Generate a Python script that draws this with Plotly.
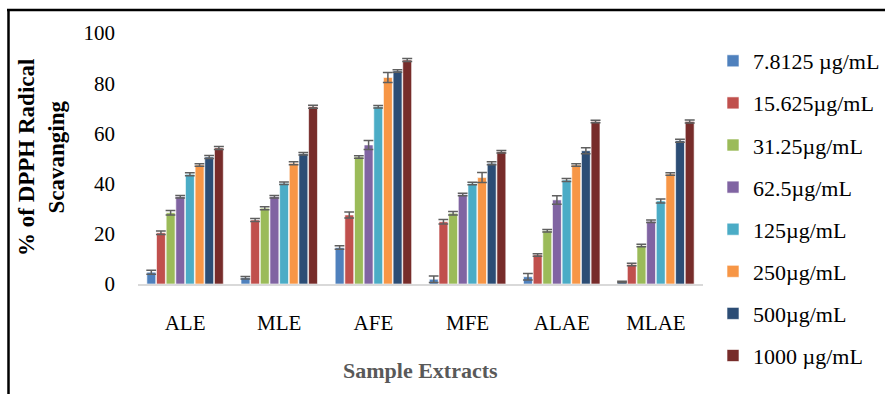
import plotly.graph_objects as go

# Sample extracts on the x axis
categories = ["ALE", "MLE", "AFE", "MFE", "ALAE", "MLAE"]

# Concentration series (legend labels)
series_names = [
    "7.8125 µg/mL", "15.625µg/mL", "31.25µg/mL", "62.5µg/mL",
    "125µg/mL", "250µg/mL", "500µg/mL", "1000 µg/mL",
]

# % DPPH radical scavenging, one list per concentration (ALE, MLE, AFE, MFE, ALAE, MLAE)
conc_7_8125 = [4.7, 2.5, 14.5, 1.9, 2.9, 0.8]
conc_15_625 = [20.4, 25.5, 27.5, 24.8, 11.6, 7.8]
conc_31_25 = [28.4, 30.2, 50.6, 28.2, 21.2, 15.3]
conc_62_5 = [34.8, 34.8, 55.4, 35.7, 33.5, 25.0]
conc_125 = [43.7, 40.1, 70.6, 40.0, 41.4, 33.1]
conc_250 = [47.4, 48.1, 82.3, 42.4, 47.4, 43.8]
conc_500 = [50.6, 51.9, 84.9, 48.1, 53.1, 57.1]
conc_1000 = [54.2, 70.6, 89.2, 52.7, 64.7, 64.7]

# Standard deviations for the error bars
err_7_8125 = [0.8, 0.5, 0.7, 1.3, 1.3, 0.3]
err_15_625 = [0.7, 0.6, 1.2, 0.9, 0.5, 0.5]
err_31_25 = [0.9, 0.6, 0.5, 0.7, 0.5, 0.5]
err_62_5 = [0.5, 0.5, 1.8, 0.5, 1.7, 0.5]
err_125 = [0.6, 0.5, 0.5, 0.5, 0.6, 0.8]
err_250 = [0.5, 0.6, 2.0, 2.0, 0.5, 0.5]
err_500 = [0.6, 0.5, 0.5, 0.6, 1.2, 0.6]
err_1000 = [0.6, 0.6, 0.6, 0.5, 0.5, 0.6]

values = [conc_7_8125, conc_15_625, conc_31_25, conc_62_5,
          conc_125, conc_250, conc_500, conc_1000]
errors = [err_7_8125, err_15_625, err_31_25, err_62_5,
          err_125, err_250, err_500, err_1000]

colors = ["#4F81BD", "#C0504D", "#9BBB59", "#8064A2",
          "#4BACC6", "#F79646", "#2C4D75", "#772C2A"]

y_ticks = [0, 20, 40, 60, 80, 100]

SERIF = "Liberation Serif, Times New Roman, serif"

fig = go.Figure()
for i, (name, vals, errs, col) in enumerate(zip(series_names, values, errors, colors)):
    fig.add_trace(go.Bar(
        x=categories,
        y=vals,
        name=name,
        legendgroup=f"g{i}",
        marker=dict(color=col, line=dict(color="rgba(255,255,255,0.6)", width=1)),
        error_y=dict(type="data", array=errs, visible=True,
                     color="#5f5f5f", thickness=1.5, width=5),
    ))

# plot-area geometry in pixels, used to place the frame and titles
W, H = 885, 394
L, R, T, B = 138, 182, 33, 110
pw, ph = W - L - R, H - T - B


def px_x(px):
    return (px - L) / pw


def px_y(py):
    return (H - B - py) / ph


fig.update_layout(
    width=W, height=H,
    margin=dict(l=L, r=R, t=T, b=B, autoexpand=False),
    paper_bgcolor="white", plot_bgcolor="white",
    barmode="group", bargap=0.18, bargroupgap=0.08,
    font=dict(family=SERIF, color="#000000"),
    showlegend=True,
    legend=dict(
        x=px_x(713), xanchor="left",
        y=px_y(40), yanchor="top",
        maxheight=360,
        font=dict(family=SERIF, size=22, color="#000000"),
        traceorder="grouped", tracegroupgap=10.5,
        bgcolor="rgba(0,0,0,0)",
    ),
    xaxis=dict(
        showline=True, linecolor="#d9d9d9", linewidth=1.5,
        ticks="", showgrid=False, zeroline=False,
        tickfont=dict(family=SERIF, size=21, color="#000000"),
        ticklabelstandoff=19,
    ),
    yaxis=dict(
        range=[0, 100], tickvals=y_ticks,
        showline=False, showgrid=False, zeroline=False, ticks="",
        tickfont=dict(family=SERIF, size=21, color="#000000"),
        ticklabelstandoff=22,
    ),
    annotations=[
        dict(text="<b>% of DPPH Radical<br>Scavanging</b>", textangle=-90,
             x=px_x(41), y=px_y(158), xref="paper", yref="paper",
             xanchor="center", yanchor="middle",
             showarrow=False, font=dict(family=SERIF, size=23, color="#000000")),
        dict(text="<b>Sample Extracts</b>",
             x=0.5, y=px_y(370), xref="paper", yref="paper",
             xanchor="center", yanchor="middle",
             showarrow=False, font=dict(family=SERIF, size=22, color="#595959")),
    ],
    shapes=[
        dict(type="line", xref="paper", yref="paper",
             x0=px_x(7), x1=px_x(W + 5), y0=px_y(10), y1=px_y(10),
             line=dict(color="#000000", width=2.5)),
        dict(type="line", xref="paper", yref="paper",
             x0=px_x(8.5), x1=px_x(8.5), y0=px_y(9), y1=px_y(H + 5),
             line=dict(color="#000000", width=2.5)),
    ],
)

fig.write_html("out.html")
